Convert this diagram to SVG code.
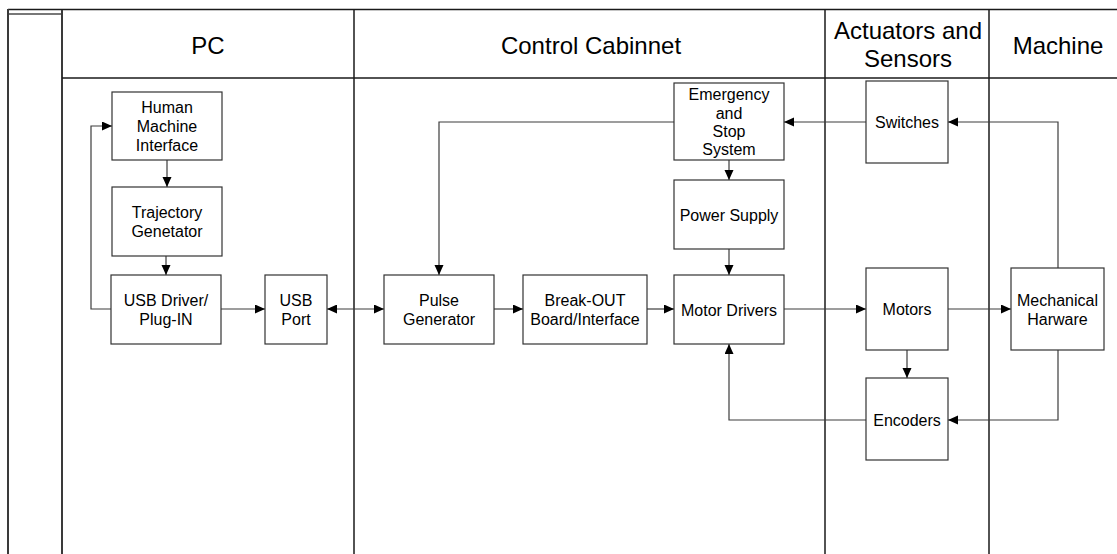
<svg xmlns="http://www.w3.org/2000/svg" width="1117" height="554" viewBox="0 0 1117 554">
<style>
.lane{stroke:#1a1a1a;stroke-width:1.5;fill:none}
.pool{stroke:#3a3a3a;stroke-width:2;fill:none}
.box{fill:#ffffff;stroke:#333333;stroke-width:1.2}
.hdr{font-family:"Liberation Sans",Arial,sans-serif;font-size:24px;fill:#000;text-anchor:middle}
.t{font-family:"Liberation Sans",Arial,sans-serif;font-size:16px;fill:#000;text-anchor:middle}
.c{fill:none;stroke:#3c3c3c;stroke-width:1.2}
</style>
<defs>
<marker id="ah" markerUnits="userSpaceOnUse" markerWidth="11" markerHeight="10" refX="10" refY="4.5" orient="auto">
<path d="M0,0 L10,4.5 L0,9 z" fill="#000"/>
</marker>
<marker id="as" markerUnits="userSpaceOnUse" markerWidth="11" markerHeight="10" refX="0" refY="4.5" orient="auto">
<path d="M10,0 L0,4.5 L10,9 z" fill="#000"/>
</marker>
</defs>
<rect width="1117" height="554" fill="#ffffff"/>
<g id="swimlanes">
<line class="lane" x1="8" y1="9.5" x2="1117" y2="9.5"/>
<line x1="8" y1="14" x2="62" y2="14" stroke="#777" stroke-width="2"/>
<line class="pool" x1="8" y1="9" x2="8" y2="554"/>
<line class="pool" x1="62" y1="10" x2="62" y2="554"/>
<line class="lane" x1="62" y1="78" x2="1117" y2="78"/>
<line class="lane" x1="354" y1="10" x2="354" y2="554"/>
<line class="lane" x1="825" y1="10" x2="825" y2="554"/>
<line class="lane" x1="989" y1="10" x2="989" y2="554"/>
<text class="hdr" x="208" y="54">PC</text>
<text class="hdr" x="591" y="54">Control Cabinnet</text>
<text class="hdr" x="908" y="39">Actuators and</text>
<text class="hdr" x="908" y="67">Sensors</text>
<text class="hdr" x="1058" y="54">Machine</text>
</g>
<g id="connectors">
<polyline class="c" points="111,309 91,309 91,126 112,126" marker-end="url(#ah)"/>
<line class="c" x1="167" y1="160" x2="167" y2="187" marker-end="url(#ah)"/>
<line class="c" x1="166" y1="256" x2="166" y2="275" marker-end="url(#ah)"/>
<line class="c" x1="221" y1="309" x2="265" y2="309" marker-end="url(#ah)"/>
<line class="c" x1="327" y1="309" x2="384" y2="309" marker-start="url(#as)" marker-end="url(#ah)"/>
<line class="c" x1="494" y1="309" x2="523" y2="309" marker-end="url(#ah)"/>
<line class="c" x1="647" y1="309" x2="674" y2="309" marker-end="url(#ah)"/>
<line class="c" x1="784" y1="309" x2="866" y2="309" marker-end="url(#ah)"/>
<line class="c" x1="948" y1="309" x2="1011" y2="309" marker-end="url(#ah)"/>
<line class="c" x1="907" y1="350" x2="907" y2="378" marker-end="url(#ah)"/>
<polyline class="c" points="1058,350 1058,420 948,420" marker-end="url(#ah)"/>
<polyline class="c" points="866,420 729,420 729,344" marker-end="url(#ah)"/>
<polyline class="c" points="1058,268 1058,122 948,122" marker-end="url(#ah)"/>
<line class="c" x1="866" y1="122" x2="784" y2="122" marker-end="url(#ah)"/>
<polyline class="c" points="674,122 439,122 439,275" marker-end="url(#ah)"/>
<line class="c" x1="729" y1="160" x2="729" y2="180" marker-end="url(#ah)"/>
<line class="c" x1="729" y1="249" x2="729" y2="275" marker-end="url(#ah)"/>
</g>
<g id="hmi">
<rect class="box" x="112" y="92" width="110" height="68"/>
<text class="t" x="167" y="113">Human</text>
<text class="t" x="167" y="132">Machine</text>
<text class="t" x="167" y="151">Interface</text>
</g>
<g id="trajectory">
<rect class="box" x="112" y="187" width="110" height="69"/>
<text class="t" x="167" y="218">Trajectory</text>
<text class="t" x="167" y="237">Genetator</text>
</g>
<g id="usbdriver">
<rect class="box" x="111" y="275" width="110" height="69"/>
<text class="t" x="166" y="305.5">USB Driver/</text>
<text class="t" x="166" y="324.5">Plug-IN</text>
</g>
<g id="usbport">
<rect class="box" x="265" y="275" width="62" height="69"/>
<text class="t" x="296" y="305.5">USB</text>
<text class="t" x="296" y="324.5">Port</text>
</g>
<g id="pulse">
<rect class="box" x="384" y="275" width="110" height="69"/>
<text class="t" x="439" y="305.5">Pulse</text>
<text class="t" x="439" y="324.5">Generator</text>
</g>
<g id="breakout">
<rect class="box" x="523" y="275" width="124" height="69"/>
<text class="t" x="585" y="305.5">Break-OUT</text>
<text class="t" x="585" y="324.5">Board/Interface</text>
</g>
<g id="motordrivers">
<rect class="box" x="674" y="275" width="110" height="69"/>
<text class="t" x="729" y="315.5">Motor Drivers</text>
</g>
<g id="emergency">
<rect class="box" x="674" y="83" width="110" height="77"/>
<text class="t" x="729" y="100">Emergency</text>
<text class="t" x="729" y="118.5">and</text>
<text class="t" x="729" y="137">Stop</text>
<text class="t" x="729" y="155">System</text>
</g>
<g id="powersupply">
<rect class="box" x="674" y="180" width="110" height="69"/>
<text class="t" x="729" y="221">Power Supply</text>
</g>
<g id="switches">
<rect class="box" x="866" y="81" width="82" height="82"/>
<text class="t" x="907" y="128">Switches</text>
</g>
<g id="motors">
<rect class="box" x="866" y="268" width="82" height="82"/>
<text class="t" x="907" y="315">Motors</text>
</g>
<g id="encoders">
<rect class="box" x="866" y="378" width="82" height="82"/>
<text class="t" x="907" y="425.5">Encoders</text>
</g>
<g id="mechanical">
<rect class="box" x="1011" y="268" width="93" height="82"/>
<text class="t" x="1057.5" y="305.5">Mechanical</text>
<text class="t" x="1057.5" y="324.5">Harware</text>
</g>
</svg>
